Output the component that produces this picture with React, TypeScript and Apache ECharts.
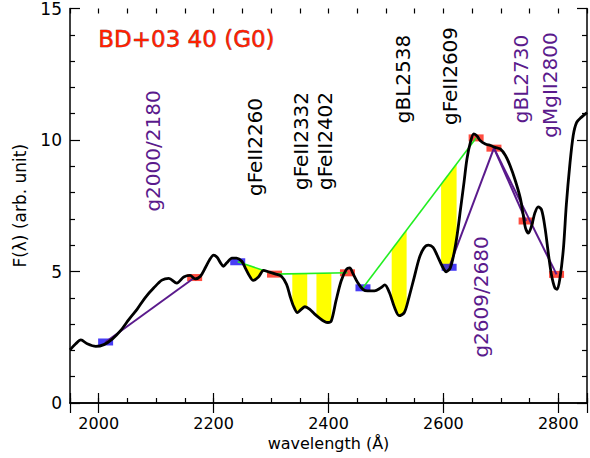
import React, { useEffect, useRef } from "react";
import * as echarts from "echarts";

// ---- spectrum (wavelength in Å, flux in arb. units) ----
const wavelength = [
  1950, 1960, 1969, 1980, 1995, 2009, 2024, 2038, 2053, 2067, 2081, 2096, 2110, 2122, 2136, 2148, 2159, 2168, 2177,
  2186, 2193, 2200, 2206, 2212, 2217, 2223, 2232, 2240, 2249, 2255, 2261, 2269, 2278, 2287, 2295, 2307, 2318, 2327,
  2333, 2339, 2346, 2353, 2359, 2367, 2376, 2385, 2393, 2399, 2405, 2413, 2422, 2431, 2437, 2442, 2451, 2460, 2468,
  2480, 2491, 2498, 2506, 2515, 2523, 2532, 2540, 2549, 2558, 2566, 2574, 2582, 2589, 2598, 2605, 2612, 2618, 2624,
  2630, 2636, 2641, 2647, 2653, 2659, 2664, 2673, 2682, 2690, 2699, 2708, 2716, 2725, 2734, 2739, 2743, 2748, 2754,
  2759, 2765, 2771, 2777, 2783, 2788, 2794, 2798, 2803, 2809, 2814, 2820, 2826, 2832, 2840, 2850,
];
const flux = [
  2.02, 2.25, 2.40, 2.25, 2.15, 2.22, 2.44, 2.75, 3.19, 3.57, 4.01, 4.38, 4.67, 4.74, 4.56, 4.79, 4.85, 4.72, 4.82,
  5.16, 5.45, 5.62, 5.54, 5.33, 5.20, 5.33, 5.51, 5.51, 5.39, 5.14, 4.89, 4.66, 4.79, 5.04, 4.99, 4.91, 4.82, 4.51,
  4.07, 3.69, 3.44, 3.57, 3.66, 3.57, 3.38, 3.22, 3.10, 3.06, 3.13, 3.88, 4.64, 5.08, 5.14, 4.95, 4.57, 4.32, 4.26,
  4.26, 4.38, 4.49, 4.20, 3.63, 3.32, 3.44, 4.01, 4.76, 5.51, 5.89, 6.00, 5.92, 5.62, 5.20, 4.99, 5.14, 5.64, 6.40,
  7.40, 8.41, 9.28, 9.91, 10.23, 10.14, 9.98, 9.85, 9.79, 9.72, 9.66, 9.41, 9.03, 8.47, 7.78, 7.15, 6.65, 6.46, 6.77,
  7.21, 7.46, 7.34, 6.65, 5.64, 4.89, 4.38, 4.32, 4.76, 5.89, 7.53, 9.03, 10.17, 10.67, 10.86, 11.04,
];

// ---- pseudo-continuum points ----
const blueWl = [2012, 2242, 2460, 2610];
const blueFlux = [2.32, 5.37, 4.38, 5.16];
const redWl = [2167, 2306, 2433, 2657, 2688, 2744, 2797];
const redFlux = [4.77, 4.9, 4.95, 10.08, 9.69, 6.92, 4.89];

// ---- continuum segments [wl1, f1, wl2, f2] ----
const greenSegments = [
  [2242, 5.37, 2306, 4.9],
  [2306, 4.9, 2433, 4.95],
  [2460, 4.38, 2657, 10.08],
];
const purpleSegments = [
  [2012, 2.32, 2167, 4.77],
  [2610, 5.16, 2688, 9.69],
  [2688, 9.69, 2744, 6.92],
  [2688, 9.69, 2797, 4.89],
];

// ---- absorption windows (yellow) ----
const windowLo = [2250, 2337, 2379, 2510, 2596];
const windowHi = [2290, 2363, 2405, 2536, 2623];
const windowSegment = [0, 1, 1, 2, 2];

// ---- texts ----
const titleText = "BD+03 40 (G0)";
const labelTexts = ["g2000/2180", "gFeII2260", "gFeII2332", "gFeII2402", "gBL2538", "gFeII2609", "gBL2730", "gMgII2800", "g2609/2680"];
const labelPurple = [true, false, false, false, false, false, true, true, true];
const xTitle = "wavelength (Å)";
const yTitle = "F(λ) (arb. unit)";

// layout of the rotated labels (pixel centres)
const labelPos: [number, number][] = [
  [153, 151], [255, 147], [301, 141], [325, 141], [403, 79], [450, 76], [521, 79], [550, 85], [481, 297],
];

const PURPLE = "#5a1a8c";
const FONT = '"DejaVu Sans", sans-serif';

function interpFlux(w: number): number {
  if (w <= wavelength[0]) return flux[0];
  for (let i = 1; i < wavelength.length; i++) {
    if (w <= wavelength[i]) {
      const t = (w - wavelength[i - 1]) / (wavelength[i] - wavelength[i - 1]);
      return flux[i - 1] + t * (flux[i] - flux[i - 1]);
    }
  }
  return flux[flux.length - 1];
}
function lineAt(seg: number[], w: number): number {
  return seg[1] + ((w - seg[0]) / (seg[2] - seg[0])) * (seg[3] - seg[1]);
}

export default function App() {
  const ref = useRef<HTMLDivElement>(null);
  useEffect(() => {
    document.body.style.margin = "0";
    if (!ref.current) return;
    const chart = echarts.init(ref.current, undefined, { renderer: "svg" });
    const axisLine = { show: true, lineStyle: { color: "#000", width: 1.5 } };
    const xCommon = { type: "value", min: 1950, max: 2850, splitLine: { show: false } };
    const yCommon = { type: "value", min: 0, max: 15, interval: 5, splitLine: { show: false } };

    const series: any[] = [];
    series.push({
      type: "custom",
      z: 1,
      data: windowLo.map((lo, i) => [lo, windowHi[i], windowSegment[i]]),
      encode: { x: [0, 1], y: 2 },
      renderItem: (params: any, api: any) => {
        const lo = api.value(0);
        const hi = api.value(1);
        const seg = greenSegments[api.value(2)];
        const top: number[][] = [];
        const bottom: number[][] = [];
        for (let w = lo; w <= hi + 0.001; w += 1) {
          const lf = lineAt(seg, w);
          const cf = Math.min(interpFlux(w), lf);
          top.push(api.coord([w, lf]));
          bottom.push(api.coord([w, cf]));
        }
        return {
          type: "polygon",
          shape: { points: top.concat(bottom.reverse()) },
          style: { fill: "#ffff00", stroke: "none" },
        };
      },
    });
    series.push({
      type: "scatter",
      z: 2,
      symbol: "rect",
      symbolSize: [15, 7],
      itemStyle: { color: "#1a0cf2" },
      data: blueWl.map((w, i) => [w, blueFlux[i]]),
    });
    series.push({
      type: "scatter",
      z: 2,
      symbol: "rect",
      symbolSize: [15, 7],
      itemStyle: { color: "#ff2010" },
      data: redWl.map((w, i) => [w, redFlux[i]]),
    });
    greenSegments.forEach((s) =>
      series.push({
        type: "line",
        z: 3,
        showSymbol: false,
        lineStyle: { color: "#22ee22", width: 1.6 },
        data: [[s[0], s[1]], [s[2], s[3]]],
      })
    );
    purpleSegments.forEach((s) =>
      series.push({
        type: "line",
        z: 3,
        showSymbol: false,
        lineStyle: { color: PURPLE, width: 2 },
        data: [[s[0], s[1]], [s[2], s[3]]],
      })
    );
    series.push({
      type: "line",
      z: 4,
      showSymbol: false,
      smooth: 0.3,
      lineStyle: { color: "#000", width: 2.8 },
      data: wavelength.map((w, i) => [w, flux[i]]),
    });

    const graphic: any[] = [
      {
        type: "text",
        left: 98,
        top: 27,
        style: {
          text: titleText,
          fill: "#ff2000",
          stroke: "#5a1a1a",
          lineWidth: 0.5,
          font: `23px ${FONT}`,
        },
      },
    ];
    labelTexts.forEach((t, i) =>
      graphic.push({
        type: "text",
        x: labelPos[i][0],
        y: labelPos[i][1],
        rotation: Math.PI / 2,
        style: {
          text: t,
          fill: labelPurple[i] ? PURPLE : "#000",
          font: `20px ${FONT}`,
          align: "center",
          verticalAlign: "middle",
        },
      })
    );

    chart.setOption({
      animation: false,
      backgroundColor: "#fff",
      grid: { left: 70, right: 1, top: 5, bottom: 55 },
      xAxis: [
        {
          ...xCommon,
          position: "bottom",
          splitNumber: 5,
          axisLine,
          axisTick: { inside: true, length: 10, lineStyle: { color: "#000", width: 1.2 } },
          axisLabel: {
            color: "#000",
            fontSize: 16,
            fontFamily: "DejaVu Sans",
            margin: 12,
            formatter: (v: number) => (v % 200 === 0 ? String(v) : ""),
          },
          name: xTitle,
          nameLocation: "middle",
          nameGap: 31,
          nameTextStyle: { color: "#000", fontSize: 16, fontFamily: "DejaVu Sans" },
        },
        {
          ...xCommon,
          position: "top",
          splitNumber: 5,
          axisLine,
          axisTick: { inside: true, length: 10, lineStyle: { color: "#000", width: 1.2 } },
          axisLabel: { show: false },
        },
        {
          ...xCommon,
          position: "bottom",
          interval: 50,
          axisLine: { show: false },
          axisTick: { inside: true, length: 5, lineStyle: { color: "#000", width: 1.2 } },
          axisLabel: { show: false },
        },
        {
          ...xCommon,
          position: "top",
          interval: 50,
          axisLine: { show: false },
          axisTick: { inside: true, length: 5, lineStyle: { color: "#000", width: 1.2 } },
          axisLabel: { show: false },
        },
      ],
      yAxis: [
        {
          ...yCommon,
          position: "left",
          axisLine,
          axisTick: { inside: true, length: 10, lineStyle: { color: "#000", width: 1.2 } },
          minorTick: { show: true, splitNumber: 5, length: 5, lineStyle: { color: "#000", width: 1.2 } },
          axisLabel: { color: "#000", fontSize: 17, fontFamily: "DejaVu Sans", margin: 8 },
          name: yTitle,
          nameLocation: "middle",
          nameGap: 42,
          nameTextStyle: { color: "#000", fontSize: 17, fontFamily: "DejaVu Sans" },
        },
        {
          ...yCommon,
          position: "right",
          axisLine,
          axisTick: { inside: true, length: 10, lineStyle: { color: "#000", width: 1.2 } },
          minorTick: { show: true, splitNumber: 5, length: 5, lineStyle: { color: "#000", width: 1.2 } },
          axisLabel: { show: false },
        },
      ],
      series,
      graphic,
    });
    return () => chart.dispose();
  }, []);
  return <div ref={ref} style={{ width: 590, height: 458 }} />;
}
